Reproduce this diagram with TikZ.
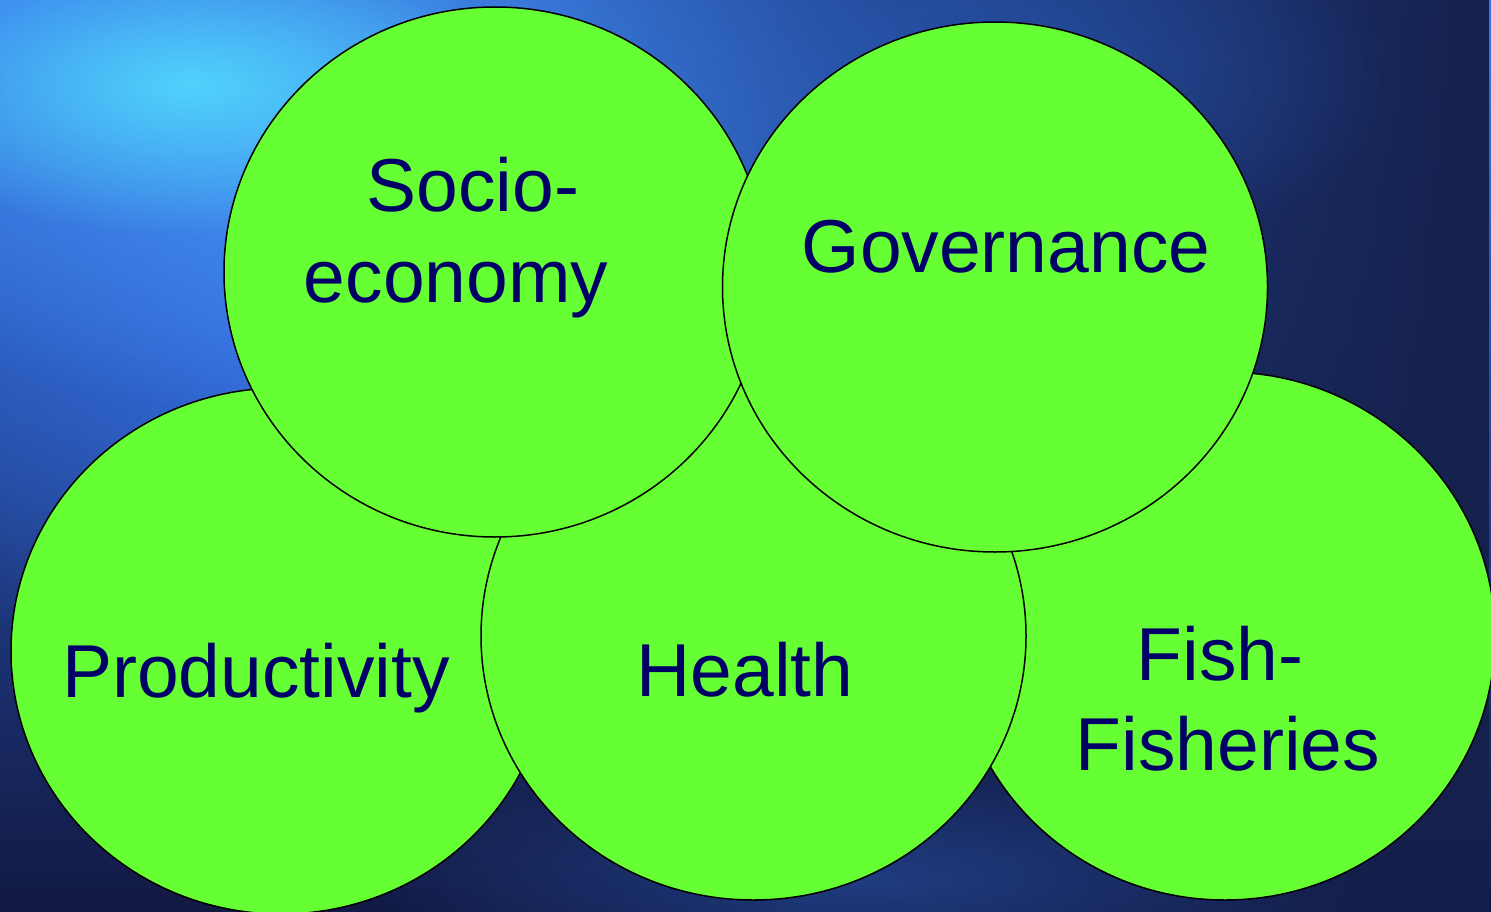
\documentclass[tikz,border=0pt]{standalone}
\usepackage{fontspec}
\setmainfont{Liberation Sans}
\usetikzlibrary{fadings,shapes.geometric}
\definecolor{circgreen}{HTML}{66FF33}
\definecolor{labelblue}{HTML}{000066}
\definecolor{bgtop}{HTML}{3576EC}
\definecolor{bgbot}{HTML}{121842}
\definecolor{bgright}{HTML}{15204C}
\definecolor{glowblue}{HTML}{3878F2}
\definecolor{glowlight}{HTML}{4A9CF8}
\definecolor{glowcyan}{HTML}{52E0FF}
\definecolor{glowmid}{HTML}{2A5CB8}
\tikzfading[name=toright, left color=transparent!100, right color=transparent!0]
\tikzfading[name=glowfade, inner color=transparent!0, outer color=transparent!100]
\begin{document}
\begin{tikzpicture}[x=1pt,y=-1pt,
  bubble/.style={ellipse,fill=circgreen,draw=black,line width=1.5pt,inner sep=0pt,outer sep=0pt},
  lbl/.style={anchor=base,text=labelblue,font=\fontsize{75}{90}\selectfont,inner sep=0pt}]
\useasboundingbox (0,0) rectangle (1491,912);
% background
\shade[top color=bgtop,bottom color=bgbot] (0,0) rectangle (1491,912);
\fill[bgright,path fading=toright] (0,0) rectangle (1491,912);
\fill[glowblue,path fading=glowfade] (380,300) ellipse [x radius=560pt,y radius=440pt];
\fill[glowlight,path fading=glowfade,opacity=0.8] (330,120) ellipse [x radius=620pt,y radius=300pt];
\fill[glowmid,path fading=glowfade,opacity=0.7] (950,80) ellipse [x radius=450pt,y radius=200pt];
\fill[glowcyan,path fading=glowfade,opacity=0.85] (190,85) ellipse [x radius=340pt,y radius=150pt];
\fill[glowmid,path fading=glowfade,opacity=0.5] (860,880) ellipse [x radius=500pt,y radius=120pt];
% circles
\node[bubble,minimum width=540pt,minimum height=526pt] (prod) at (281,651) {};
\node[bubble,minimum width=540pt,minimum height=528pt] (fish) at (1225,636) {};
\node[bubble,minimum width=545pt,minimum height=528pt] (health) at (753.5,636) {};
\node[bubble,minimum width=542pt,minimum height=530pt] (socio) at (495,272) {};
\node[bubble,minimum width=545pt,minimum height=530pt] (gov) at (995,287) {};
% labels
\node[lbl] (socio1) at (473,212) {Socio-};
\node[lbl] (socio2) at (456,302) {economy};
\node[lbl] (govl) at (1006,272) {Governance};
\node[lbl] (prodl) at (256,697) {Productivity};
\node[lbl] (healthl) at (745,696) {Health};
\node[lbl] (fish1) at (1220,680) {Fish-};
\node[lbl] (fish2) at (1228,770) {Fisheries};
\end{tikzpicture}
\end{document}
